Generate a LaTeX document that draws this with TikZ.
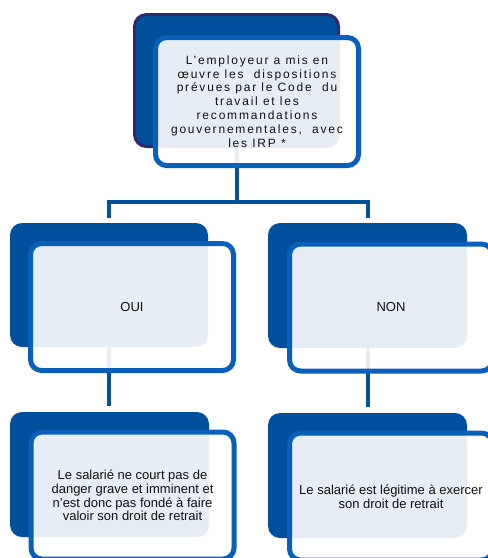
\documentclass[tikz,border=0pt]{standalone}
\usepackage{fontspec}
\setmainfont{Liberation Sans}
\newfontfamily\spacedfont[LetterSpace=15]{Liberation Sans}
\definecolor{backblue}{HTML}{02509D}
\definecolor{frontblue}{HTML}{0A5FBA}
\definecolor{purpleb}{HTML}{2F2A6E}
\definecolor{connblue}{HTML}{03509C}
\definecolor{txt}{HTML}{111111}
\begin{document}
\begin{tikzpicture}[x=1pt,y=-1pt,
  backbox/.style={rectangle, rounded corners=12pt, fill=backblue, draw=none, inner sep=0pt},
  frontbox/.style={rectangle, rounded corners=11pt, draw=frontblue, line width=5pt, fill=white,
    fill opacity=0.9, text opacity=1, text=txt, inner sep=0pt, minimum width=203pt, minimum height=127pt, align=center},
  conn/.style={draw=connblue, line width=4pt},
  toptext/.style={font=\spacedfont\fontsize{12}{13.8}\selectfont},
  bodytext/.style={font=\fontsize{13}{13.6}\selectfont}
]
\useasboundingbox (0,0) rectangle (488,558);
\clip (0,0) rectangle (488,558);
% back boxes
\node[backbox, draw=purpleb, line width=3pt, minimum width=204pt, minimum height=132pt] (tb) at (236.5,80.5) {};
\node[backbox, minimum width=198pt, minimum height=124pt] (lb) at (109,285) {};
\node[backbox, minimum width=199pt, minimum height=125pt] (rb) at (367.5,285.5) {};
\node[backbox, minimum width=199pt, minimum height=125pt] (lbb) at (109.5,474.5) {};
\node[backbox, minimum width=199pt, minimum height=125pt] (rbb) at (367.5,475.5) {};
% connectors
\coordinate (j) at (tb.south |- 0,202);
\coordinate (l1) at (lb.south |- 0,218);
\coordinate (r1) at (rb.south |- 0,218);
\coordinate (l2) at (lb.south |- 0,406);
\coordinate (r2) at (rb.south |- 0,407);
\draw[conn] (tb.south) -- (j);
\draw[conn] (l1) |- (j) -| (r1);
\draw[conn] (lb.south) -- (l2);
\draw[conn] (rb.south) -- (r2);
% front boxes
\node[frontbox, minimum height=128pt, toptext] (tf) at (257,101.5) {L’employeur a mis en\\œuvre les \ dispositions\\prévues par le Code \ du\\travail et les\\recommandations\\gouvernementales, \ avec\\les IRP *};
\node[frontbox, bodytext] (lf) at (132,307) {OUI};
\node[frontbox, bodytext] (rf) at (391,307.5) {NON};
\node[frontbox, bodytext] (lff) at (132.5,495.5) {Le salarié ne court pas de\\danger grave et imminent et\\n’est donc pas fondé à faire\\valoir son droit de retrait};
\node[frontbox, bodytext] (rff) at (391,496.5) {Le salarié est légitime à exercer\\son droit de retrait};
\end{tikzpicture}
\end{document}
